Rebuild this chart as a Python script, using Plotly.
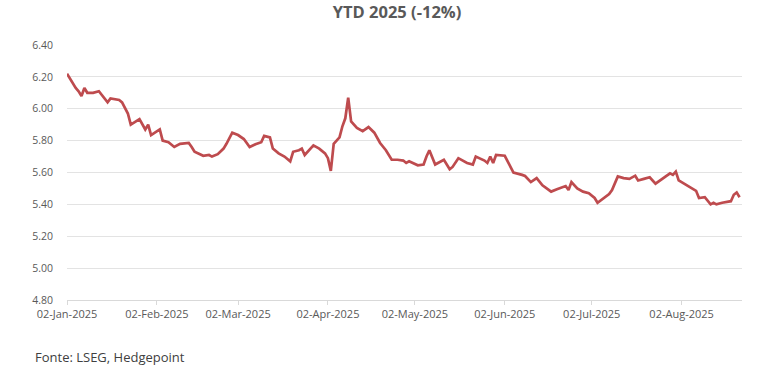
import plotly.graph_objects as go

dates = [
    "2025-01-02", "2025-01-04", "2025-01-05", "2025-01-06", "2025-01-07", "2025-01-08", "2025-01-09",
    "2025-01-11", "2025-01-13", "2025-01-16", "2025-01-17", "2025-01-20", "2025-01-21", "2025-01-23",
    "2025-01-24", "2025-01-27", "2025-01-29", "2025-01-30", "2025-01-31", "2025-02-03", "2025-02-04",
    "2025-02-06", "2025-02-08", "2025-02-10", "2025-02-13", "2025-02-14", "2025-02-15", "2025-02-18",
    "2025-02-20", "2025-02-21", "2025-02-23", "2025-02-25", "2025-02-26", "2025-02-28", "2025-03-02",
    "2025-03-04", "2025-03-06", "2025-03-08", "2025-03-10", "2025-03-11", "2025-03-13", "2025-03-14",
    "2025-03-16", "2025-03-18", "2025-03-20", "2025-03-21", "2025-03-23", "2025-03-24", "2025-03-25",
    "2025-03-28", "2025-03-30", "2025-04-01", "2025-04-02", "2025-04-03", "2025-04-04", "2025-04-06",
    "2025-04-07", "2025-04-08", "2025-04-09", "2025-04-10", "2025-04-12", "2025-04-14", "2025-04-16",
    "2025-04-18", "2025-04-20", "2025-04-22", "2025-04-24", "2025-04-26", "2025-04-28", "2025-04-29",
    "2025-04-30", "2025-05-03", "2025-05-05", "2025-05-06", "2025-05-07", "2025-05-09", "2025-05-12",
    "2025-05-14", "2025-05-15", "2025-05-17", "2025-05-18", "2025-05-20", "2025-05-22", "2025-05-23",
    "2025-05-26", "2025-05-27", "2025-05-28", "2025-05-29", "2025-05-30", "2025-06-02", "2025-06-03",
    "2025-06-05", "2025-06-08", "2025-06-09", "2025-06-11", "2025-06-13", "2025-06-15", "2025-06-18",
    "2025-06-20", "2025-06-23", "2025-06-24", "2025-06-25", "2025-06-27", "2025-06-29", "2025-07-01",
    "2025-07-03", "2025-07-04", "2025-07-07", "2025-07-08", "2025-07-09", "2025-07-11", "2025-07-13",
    "2025-07-15", "2025-07-17", "2025-07-18", "2025-07-20", "2025-07-22", "2025-07-24", "2025-07-26",
    "2025-07-28", "2025-07-29", "2025-07-30", "2025-07-31", "2025-08-01", "2025-08-04", "2025-08-05",
    "2025-08-07", "2025-08-08", "2025-08-10", "2025-08-12", "2025-08-13", "2025-08-14", "2025-08-16",
    "2025-08-19", "2025-08-20", "2025-08-21", "2025-08-22",
]

values = [
    6.22, 6.16, 6.13, 6.11, 6.08, 6.13, 6.10,
    6.10, 6.11, 6.04, 6.065, 6.055, 6.04, 5.97,
    5.90, 5.935, 5.87, 5.90, 5.835, 5.87, 5.80,
    5.79, 5.76, 5.78, 5.785, 5.76, 5.73, 5.705,
    5.71, 5.70, 5.715, 5.75, 5.78, 5.85, 5.835,
    5.81, 5.76, 5.777, 5.79, 5.83, 5.82, 5.75,
    5.72, 5.70, 5.67, 5.73, 5.74, 5.75, 5.71,
    5.77, 5.75, 5.72, 5.69, 5.61, 5.78, 5.82,
    5.89, 5.94, 6.07, 5.92, 5.88, 5.86, 5.885,
    5.85, 5.785, 5.74, 5.68, 5.68, 5.675, 5.66,
    5.67, 5.645, 5.65, 5.70, 5.74, 5.65, 5.68,
    5.62, 5.635, 5.69, 5.68, 5.66, 5.65, 5.70,
    5.675, 5.66, 5.70, 5.66, 5.71, 5.705, 5.67,
    5.60, 5.585, 5.578, 5.54, 5.565, 5.52, 5.48,
    5.495, 5.515, 5.49, 5.54, 5.50, 5.48, 5.47,
    5.44, 5.41, 5.45, 5.465, 5.49, 5.575, 5.565,
    5.56, 5.58, 5.55, 5.56, 5.57, 5.53, 5.555,
    5.58, 5.595, 5.585, 5.605, 5.55, 5.52, 5.51,
    5.485, 5.44, 5.445, 5.40, 5.41, 5.40, 5.41,
    5.42, 5.46, 5.475, 5.445,
]

x_tick_dates = ["2025-01-02", "2025-02-02", "2025-03-02", "2025-04-02",
                "2025-05-02", "2025-06-02", "2025-07-02", "2025-08-02"]
x_tick_labels = ["02-Jan-2025", "02-Feb-2025", "02-Mar-2025", "02-Apr-2025",
                 "02-May-2025", "02-Jun-2025", "02-Jul-2025", "02-Aug-2025"]
y_ticks = [4.80, 5.00, 5.20, 5.40, 5.60, 5.80, 6.00, 6.20, 6.40]
y_tick_labels = ["4.80", "5.00", "5.20", "5.40", "5.60", "5.80", "6.00", "6.20", "6.40"]

title_text = "YTD 2025 (-12%)"
source_text = "Fonte: LSEG, Hedgepoint"

FONT = "Open Sans"
GREY = "#595959"

fig = go.Figure()
fig.add_trace(go.Scatter(
    x=dates, y=values, mode="lines",
    line=dict(color="#BE4B4E", width=2.7),
    hoverinfo="x+y", showlegend=False,
))

fig.update_layout(
    width=770, height=375,
    margin=dict(l=67, r=28, t=45, b=75),
    paper_bgcolor="white", plot_bgcolor="white",
    font=dict(family=FONT, color=GREY, size=10),
    title=dict(text="<b>" + title_text + "</b>", x=397 / 770, xref="container",
               xanchor="center", y=1 - 12 / 375, yref="container", yanchor="middle",
               font=dict(family=FONT, size=16.5, color=GREY)),
)
fig.add_annotation(text=source_text, xref="paper", yref="paper",
                   x=-34 / 675, y=-57 / 255, xanchor="left", yanchor="middle",
                   showarrow=False, font=dict(family=FONT, size=13, color="#404040"))

fig.update_xaxes(
    type="date", range=["2025-01-02", "2025-08-22 20:00"],
    tickvals=x_tick_dates, ticktext=x_tick_labels,
    showgrid=False, showline=True, linecolor="#D9D9D9", linewidth=1,
    ticks="outside", ticklen=4, tickcolor="#D9D9D9",
    tickfont=dict(family=FONT, size=11, color=GREY), zeroline=False,
)
fig.update_yaxes(
    range=[4.80, 6.40], tickvals=y_ticks, ticktext=y_tick_labels,
    showgrid=True, gridcolor="#E3E3E3", gridwidth=1, zeroline=False,
    showline=False, ticks="", ticklabelstandoff=13,
    tickfont=dict(family=FONT, size=10.5, color=GREY),
)

fig.write_html("out.html", config={"displayModeBar": False},
               post_script="document.body.style.margin='0';")
